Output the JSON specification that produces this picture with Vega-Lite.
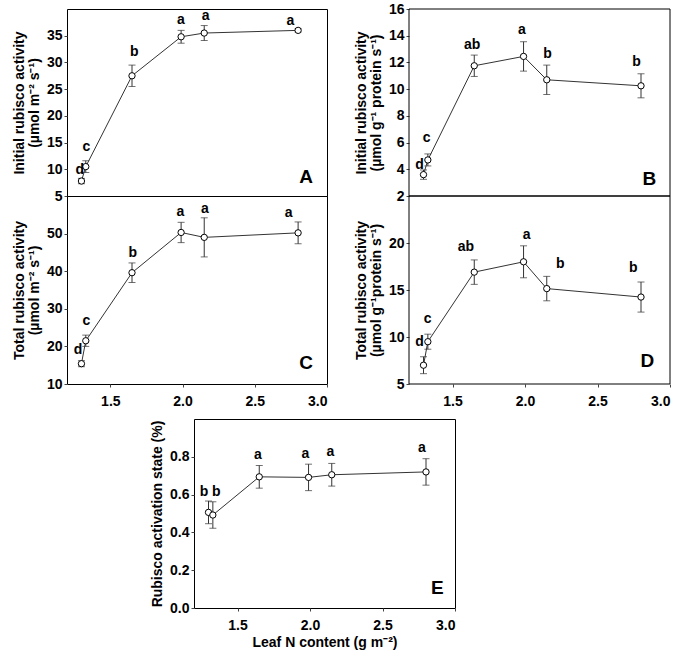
{
  "$schema": "https://vega.github.io/schema/vega-lite/v6.json",
  "padding": {"left": 11, "top": 2, "right": 5, "bottom": 2},
  "background": "white",
  "config": {
    "font": "Liberation Sans",
    "view": {"stroke": "black", "strokeWidth": 1},
    "axis": {
      "domain": false, "grid": false, "ticks": true, "tickSize": 3, "tickColor": "#444", "labelOverlap": false, "tickCount": 20,
      "labelFont": "Liberation Sans", "labelFontSize": 14, "labelFontWeight": "bold", "labelColor": "black", "labelPadding": 2,
      "titleFont": "Liberation Sans", "titleFontSize": 14, "titleFontWeight": "bold", "titleColor": "black", "titleLineHeight": 15, "titlePadding": 5
    },
    "axisX": {"labelPadding": 7, "titlePadding": 3}
  },
  "datasets": {
    "frames": [
      {"p": "B", "x0": 1.2, "x1": 3.0, "y0": 2, "y1": 16},
      {"p": "D", "x0": 1.2, "x1": 3.0, "y0": 5, "y1": 25}
    ],
    "pts": [
      {"p": "A", "x": 1.30, "y": 7.8, "lo": 7.3, "hi": 8.3},
      {"p": "A", "x": 1.33, "y": 10.5, "lo": 9.4, "hi": 11.6},
      {"p": "A", "x": 1.65, "y": 27.5, "lo": 25.5, "hi": 29.5},
      {"p": "A", "x": 1.99, "y": 34.8, "lo": 33.6, "hi": 36.0},
      {"p": "A", "x": 2.15, "y": 35.5, "lo": 34.1, "hi": 36.9},
      {"p": "A", "x": 2.80, "y": 36.0, "lo": 35.7, "hi": 36.3},
      {"p": "B", "x": 1.30, "y": 3.6, "lo": 3.25, "hi": 3.95},
      {"p": "B", "x": 1.33, "y": 4.7, "lo": 4.25, "hi": 5.15},
      {"p": "B", "x": 1.65, "y": 11.75, "lo": 10.95, "hi": 12.55},
      {"p": "B", "x": 1.99, "y": 12.45, "lo": 11.35, "hi": 13.55},
      {"p": "B", "x": 2.15, "y": 10.7, "lo": 9.6, "hi": 11.8},
      {"p": "B", "x": 2.80, "y": 10.25, "lo": 9.35, "hi": 11.15},
      {"p": "C", "x": 1.30, "y": 15.4, "lo": 14.6, "hi": 16.2},
      {"p": "C", "x": 1.33, "y": 21.5, "lo": 20.0, "hi": 23.0},
      {"p": "C", "x": 1.65, "y": 39.6, "lo": 37.0, "hi": 42.2},
      {"p": "C", "x": 1.99, "y": 50.3, "lo": 47.6, "hi": 53.0},
      {"p": "C", "x": 2.15, "y": 49.0, "lo": 43.8, "hi": 54.2},
      {"p": "C", "x": 2.80, "y": 50.2, "lo": 47.3, "hi": 53.1},
      {"p": "D", "x": 1.30, "y": 7.0, "lo": 6.1, "hi": 7.9},
      {"p": "D", "x": 1.33, "y": 9.5, "lo": 8.7, "hi": 10.3},
      {"p": "D", "x": 1.65, "y": 16.9, "lo": 15.6, "hi": 18.2},
      {"p": "D", "x": 1.99, "y": 18.0, "lo": 16.3, "hi": 19.7},
      {"p": "D", "x": 2.15, "y": 15.15, "lo": 13.85, "hi": 16.45},
      {"p": "D", "x": 2.80, "y": 14.25, "lo": 12.65, "hi": 15.85},
      {"p": "E", "x": 1.30, "y": 0.506, "lo": 0.446, "hi": 0.566},
      {"p": "E", "x": 1.33, "y": 0.492, "lo": 0.422, "hi": 0.562},
      {"p": "E", "x": 1.65, "y": 0.694, "lo": 0.634, "hi": 0.754},
      {"p": "E", "x": 1.99, "y": 0.691, "lo": 0.621, "hi": 0.761},
      {"p": "E", "x": 2.15, "y": 0.705, "lo": 0.645, "hi": 0.765},
      {"p": "E", "x": 2.80, "y": 0.72, "lo": 0.65, "hi": 0.79}
    ],
    "lab": [
      {"p": "A", "kind": "sig", "lx": 1.289, "ly": 9.8, "t": "d"},
      {"p": "A", "kind": "sig", "lx": 1.335, "ly": 14.1, "t": "c"},
      {"p": "A", "kind": "sig", "lx": 1.665, "ly": 31.9, "t": "b"},
      {"p": "A", "kind": "sig", "lx": 1.988, "ly": 38.0, "t": "a"},
      {"p": "A", "kind": "sig", "lx": 2.16, "ly": 38.6, "t": "a"},
      {"p": "A", "kind": "sig", "lx": 2.747, "ly": 37.7, "t": "a"},
      {"p": "A", "kind": "panel", "lx": 2.855, "ly": 8.6, "t": "A"},
      {"p": "B", "kind": "sig", "lx": 1.273, "ly": 4.33, "t": "d"},
      {"p": "B", "kind": "sig", "lx": 1.322, "ly": 6.37, "t": "c"},
      {"p": "B", "kind": "sig", "lx": 1.636, "ly": 13.3, "t": "ab"},
      {"p": "B", "kind": "sig", "lx": 1.978, "ly": 14.4, "t": "a"},
      {"p": "B", "kind": "sig", "lx": 2.156, "ly": 12.6, "t": "b"},
      {"p": "B", "kind": "sig", "lx": 2.77, "ly": 12.0, "t": "b"},
      {"p": "B", "kind": "panel", "lx": 2.857, "ly": 3.3, "t": "B"},
      {"p": "C", "kind": "sig", "lx": 1.276, "ly": 19.1, "t": "d"},
      {"p": "C", "kind": "sig", "lx": 1.334, "ly": 26.7, "t": "c"},
      {"p": "C", "kind": "sig", "lx": 1.655, "ly": 44.8, "t": "b"},
      {"p": "C", "kind": "sig", "lx": 1.985, "ly": 55.8, "t": "a"},
      {"p": "C", "kind": "sig", "lx": 2.154, "ly": 56.5, "t": "a"},
      {"p": "C", "kind": "sig", "lx": 2.735, "ly": 55.6, "t": "a"},
      {"p": "C", "kind": "panel", "lx": 2.855, "ly": 15.6, "t": "C"},
      {"p": "D", "kind": "sig", "lx": 1.273, "ly": 9.5, "t": "d"},
      {"p": "D", "kind": "sig", "lx": 1.329, "ly": 11.9, "t": "c"},
      {"p": "D", "kind": "sig", "lx": 1.592, "ly": 19.6, "t": "ab"},
      {"p": "D", "kind": "sig", "lx": 2.012, "ly": 20.9, "t": "a"},
      {"p": "D", "kind": "sig", "lx": 2.243, "ly": 17.8, "t": "b"},
      {"p": "D", "kind": "sig", "lx": 2.746, "ly": 17.3, "t": "b"},
      {"p": "D", "kind": "panel", "lx": 2.843, "ly": 7.4, "t": "D"},
      {"p": "E", "kind": "sig", "lx": 1.269, "ly": 0.612, "t": "b"},
      {"p": "E", "kind": "sig", "lx": 1.354, "ly": 0.612, "t": "b"},
      {"p": "E", "kind": "sig", "lx": 1.64, "ly": 0.81, "t": "a"},
      {"p": "E", "kind": "sig", "lx": 1.968, "ly": 0.817, "t": "a"},
      {"p": "E", "kind": "sig", "lx": 2.14, "ly": 0.826, "t": "a"},
      {"p": "E", "kind": "sig", "lx": 2.772, "ly": 0.844, "t": "a"},
      {"p": "E", "kind": "panel", "lx": 2.878, "ly": 0.105, "t": "E"}
    ]
  },
  "vconcat": [
    {
      "columns": 2,
      "bounds": "flush",
      "spacing": {"row": 0, "column": 82},
      "concat": [
        {
          "width": 260, "height": 187,
          "encoding": {"x": {"field": "x", "type": "quantitative", "scale": {"domain": [1.2, 3.0], "nice": false}, "axis": null}},
          "layer": [
            {"data": {"name": "pts"}, "transform": [{"filter": "datum.p == 'A'"}], "mark": {"type": "line", "color": "#333", "strokeWidth": 1},
             "encoding": {"y": {"field": "y", "type": "quantitative", "scale": {"domain": [5, 40], "nice": false, "zero": false}, "title": ["Initial rubisco activity", "(µmol m⁻² s⁻¹)"], "axis": {"values": [5, 10, 15, 20, 25, 30, 35], "format": "d", "labelOverlap": false, "tickCount": 20}}}},
            {"data": {"name": "pts"}, "transform": [{"filter": "datum.p == 'A'"}], "mark": {"type": "rule", "color": "#333", "strokeWidth": 1},
             "encoding": {"y": {"field": "lo", "type": "quantitative"}, "y2": {"field": "hi"}}},
            {"data": {"name": "pts"}, "transform": [{"filter": "datum.p == 'A'"}], "mark": {"type": "tick", "color": "#333", "thickness": 1, "size": 7, "orient": "horizontal"},
             "encoding": {"y": {"field": "lo", "type": "quantitative"}}},
            {"data": {"name": "pts"}, "transform": [{"filter": "datum.p == 'A'"}], "mark": {"type": "tick", "color": "#333", "thickness": 1, "size": 7, "orient": "horizontal"},
             "encoding": {"y": {"field": "hi", "type": "quantitative"}}},
            {"data": {"name": "pts"}, "transform": [{"filter": "datum.p == 'A'"}], "mark": {"type": "point", "shape": "circle", "filled": true, "fill": "white", "stroke": "black", "strokeWidth": 1, "size": 40, "opacity": 1},
             "encoding": {"y": {"field": "y", "type": "quantitative"}}},
            {"data": {"name": "lab"}, "transform": [{"filter": "datum.p == 'A' && datum.kind == 'sig'"}], "mark": {"type": "text", "fontSize": 14, "fontWeight": "bold", "align": "center", "baseline": "middle", "color": "black"},
             "encoding": {"x": {"field": "lx", "type": "quantitative", "axis": null}, "y": {"field": "ly", "type": "quantitative"}, "text": {"field": "t"}}},
            {"data": {"name": "lab"}, "transform": [{"filter": "datum.p == 'A' && datum.kind == 'panel'"}], "mark": {"type": "text", "fontSize": 19, "fontWeight": "bold", "align": "center", "baseline": "middle", "color": "black"},
             "encoding": {"x": {"field": "lx", "type": "quantitative", "axis": null}, "y": {"field": "ly", "type": "quantitative"}, "text": {"field": "t"}}}
          ]
        },
        {
          "width": 261, "height": 187,
          "view": {"stroke": null},
          "encoding": {"x": {"field": "x", "type": "quantitative", "scale": {"domain": [1.2, 3.0], "nice": false}, "axis": null}},
          "layer": [
            {"data": {"name": "frames"}, "transform": [{"filter": "datum.p == 'B'"}], "mark": {"type": "rect", "filled": false, "color": "black", "strokeWidth": 1},
             "encoding": {"x": {"field": "x0", "type": "quantitative", "axis": null}, "x2": {"field": "x1"}, "y": {"field": "y0", "type": "quantitative"}, "y2": {"field": "y1"}}},
            {"data": {"name": "pts"}, "transform": [{"filter": "datum.p == 'B'"}], "mark": {"type": "line", "color": "#333", "strokeWidth": 1},
             "encoding": {"y": {"field": "y", "type": "quantitative", "scale": {"domain": [2, 16], "nice": false, "zero": false}, "title": ["Initial rubisco activity", "(µmol g⁻¹ protein s⁻¹)"], "axis": {"values": [2, 4, 6, 8, 10, 12, 14, 16], "format": "d", "labelOverlap": false, "tickCount": 20}}}},
            {"data": {"name": "pts"}, "transform": [{"filter": "datum.p == 'B'"}], "mark": {"type": "rule", "color": "#333", "strokeWidth": 1},
             "encoding": {"y": {"field": "lo", "type": "quantitative"}, "y2": {"field": "hi"}}},
            {"data": {"name": "pts"}, "transform": [{"filter": "datum.p == 'B'"}], "mark": {"type": "tick", "color": "#333", "thickness": 1, "size": 7, "orient": "horizontal"},
             "encoding": {"y": {"field": "lo", "type": "quantitative"}}},
            {"data": {"name": "pts"}, "transform": [{"filter": "datum.p == 'B'"}], "mark": {"type": "tick", "color": "#333", "thickness": 1, "size": 7, "orient": "horizontal"},
             "encoding": {"y": {"field": "hi", "type": "quantitative"}}},
            {"data": {"name": "pts"}, "transform": [{"filter": "datum.p == 'B'"}], "mark": {"type": "point", "shape": "circle", "filled": true, "fill": "white", "stroke": "black", "strokeWidth": 1, "size": 40, "opacity": 1},
             "encoding": {"y": {"field": "y", "type": "quantitative"}}},
            {"data": {"name": "lab"}, "transform": [{"filter": "datum.p == 'B' && datum.kind == 'sig'"}], "mark": {"type": "text", "fontSize": 14, "fontWeight": "bold", "align": "center", "baseline": "middle", "color": "black"},
             "encoding": {"x": {"field": "lx", "type": "quantitative", "axis": null}, "y": {"field": "ly", "type": "quantitative"}, "text": {"field": "t"}}},
            {"data": {"name": "lab"}, "transform": [{"filter": "datum.p == 'B' && datum.kind == 'panel'"}], "mark": {"type": "text", "fontSize": 19, "fontWeight": "bold", "align": "center", "baseline": "middle", "color": "black"},
             "encoding": {"x": {"field": "lx", "type": "quantitative", "axis": null}, "y": {"field": "ly", "type": "quantitative"}, "text": {"field": "t"}}}
          ]
        },
        {
          "width": 260, "height": 188,
          "encoding": {"x": {"field": "x", "type": "quantitative", "scale": {"domain": [1.2, 3.0], "nice": false}, "title": null, "axis": {"values": [1.5, 2.0, 2.5, 3.0], "format": ".1f", "labelOverlap": false, "tickCount": 20}}},
          "layer": [
            {"data": {"name": "pts"}, "transform": [{"filter": "datum.p == 'C'"}], "mark": {"type": "line", "color": "#333", "strokeWidth": 1},
             "encoding": {"y": {"field": "y", "type": "quantitative", "scale": {"domain": [10, 60], "nice": false, "zero": false}, "title": ["Total rubisco activity", "(µmol m⁻² s⁻¹)"], "axis": {"values": [10, 20, 30, 40, 50], "format": "d", "labelOverlap": false, "tickCount": 20}}}},
            {"data": {"name": "pts"}, "transform": [{"filter": "datum.p == 'C'"}], "mark": {"type": "rule", "color": "#333", "strokeWidth": 1},
             "encoding": {"y": {"field": "lo", "type": "quantitative"}, "y2": {"field": "hi"}}},
            {"data": {"name": "pts"}, "transform": [{"filter": "datum.p == 'C'"}], "mark": {"type": "tick", "color": "#333", "thickness": 1, "size": 7, "orient": "horizontal"},
             "encoding": {"y": {"field": "lo", "type": "quantitative"}}},
            {"data": {"name": "pts"}, "transform": [{"filter": "datum.p == 'C'"}], "mark": {"type": "tick", "color": "#333", "thickness": 1, "size": 7, "orient": "horizontal"},
             "encoding": {"y": {"field": "hi", "type": "quantitative"}}},
            {"data": {"name": "pts"}, "transform": [{"filter": "datum.p == 'C'"}], "mark": {"type": "point", "shape": "circle", "filled": true, "fill": "white", "stroke": "black", "strokeWidth": 1, "size": 40, "opacity": 1},
             "encoding": {"y": {"field": "y", "type": "quantitative"}}},
            {"data": {"name": "lab"}, "transform": [{"filter": "datum.p == 'C' && datum.kind == 'sig'"}], "mark": {"type": "text", "fontSize": 14, "fontWeight": "bold", "align": "center", "baseline": "middle", "color": "black"},
             "encoding": {"x": {"field": "lx", "type": "quantitative"}, "y": {"field": "ly", "type": "quantitative"}, "text": {"field": "t"}}},
            {"data": {"name": "lab"}, "transform": [{"filter": "datum.p == 'C' && datum.kind == 'panel'"}], "mark": {"type": "text", "fontSize": 19, "fontWeight": "bold", "align": "center", "baseline": "middle", "color": "black"},
             "encoding": {"x": {"field": "lx", "type": "quantitative"}, "y": {"field": "ly", "type": "quantitative"}, "text": {"field": "t"}}}
          ]
        },
        {
          "width": 261, "height": 188,
          "view": {"stroke": null},
          "encoding": {"x": {"field": "x", "type": "quantitative", "scale": {"domain": [1.2, 3.0], "nice": false}, "title": null, "axis": {"values": [1.5, 2.0, 2.5, 3.0], "format": ".1f", "labelOverlap": false, "tickCount": 20}}},
          "layer": [
            {"data": {"name": "frames"}, "transform": [{"filter": "datum.p == 'D'"}], "mark": {"type": "rect", "filled": false, "color": "black", "strokeWidth": 1},
             "encoding": {"x": {"field": "x0", "type": "quantitative"}, "x2": {"field": "x1"}, "y": {"field": "y0", "type": "quantitative"}, "y2": {"field": "y1"}}},
            {"data": {"name": "pts"}, "transform": [{"filter": "datum.p == 'D'"}], "mark": {"type": "line", "color": "#333", "strokeWidth": 1},
             "encoding": {"y": {"field": "y", "type": "quantitative", "scale": {"domain": [5, 25], "nice": false, "zero": false}, "title": ["Total rubisco activity", "(µmol g⁻¹protein s⁻¹)"], "axis": {"values": [5, 10, 15, 20], "format": "d", "labelOverlap": false, "tickCount": 20}}}},
            {"data": {"name": "pts"}, "transform": [{"filter": "datum.p == 'D'"}], "mark": {"type": "rule", "color": "#333", "strokeWidth": 1},
             "encoding": {"y": {"field": "lo", "type": "quantitative"}, "y2": {"field": "hi"}}},
            {"data": {"name": "pts"}, "transform": [{"filter": "datum.p == 'D'"}], "mark": {"type": "tick", "color": "#333", "thickness": 1, "size": 7, "orient": "horizontal"},
             "encoding": {"y": {"field": "lo", "type": "quantitative"}}},
            {"data": {"name": "pts"}, "transform": [{"filter": "datum.p == 'D'"}], "mark": {"type": "tick", "color": "#333", "thickness": 1, "size": 7, "orient": "horizontal"},
             "encoding": {"y": {"field": "hi", "type": "quantitative"}}},
            {"data": {"name": "pts"}, "transform": [{"filter": "datum.p == 'D'"}], "mark": {"type": "point", "shape": "circle", "filled": true, "fill": "white", "stroke": "black", "strokeWidth": 1, "size": 40, "opacity": 1},
             "encoding": {"y": {"field": "y", "type": "quantitative"}}},
            {"data": {"name": "lab"}, "transform": [{"filter": "datum.p == 'D' && datum.kind == 'sig'"}], "mark": {"type": "text", "fontSize": 14, "fontWeight": "bold", "align": "center", "baseline": "middle", "color": "black"},
             "encoding": {"x": {"field": "lx", "type": "quantitative"}, "y": {"field": "ly", "type": "quantitative"}, "text": {"field": "t"}}},
            {"data": {"name": "lab"}, "transform": [{"filter": "datum.p == 'D' && datum.kind == 'panel'"}], "mark": {"type": "text", "fontSize": 19, "fontWeight": "bold", "align": "center", "baseline": "middle", "color": "black"},
             "encoding": {"x": {"field": "lx", "type": "quantitative"}, "y": {"field": "ly", "type": "quantitative"}, "text": {"field": "t"}}}
          ]
        }
      ]
    },
    {
      "hconcat": [
        {
          "width": 83, "height": 10,
          "data": {"values": [{"k": 1}]},
          "mark": {"type": "point", "opacity": 0},
          "encoding": {},
          "view": {"stroke": null}
        },
        {
          "width": 261, "height": 189,
          "encoding": {"x": {"field": "x", "type": "quantitative", "scale": {"domain": [1.2, 3.0], "nice": false}, "title": "Leaf N content (g m⁻²)", "axis": {"values": [1.5, 2.0, 2.5, 3.0], "format": ".1f", "labelOverlap": false, "tickCount": 20}}},
          "layer": [
            {"data": {"name": "pts"}, "transform": [{"filter": "datum.p == 'E'"}], "mark": {"type": "line", "color": "#333", "strokeWidth": 1},
             "encoding": {"y": {"field": "y", "type": "quantitative", "scale": {"domain": [0, 1], "nice": false}, "title": "Rubisco activation state (%)", "axis": {"values": [0, 0.2, 0.4, 0.6, 0.8], "format": ".1f", "labelOverlap": false, "tickCount": 20}}}},
            {"data": {"name": "pts"}, "transform": [{"filter": "datum.p == 'E'"}], "mark": {"type": "rule", "color": "#333", "strokeWidth": 1},
             "encoding": {"y": {"field": "lo", "type": "quantitative"}, "y2": {"field": "hi"}}},
            {"data": {"name": "pts"}, "transform": [{"filter": "datum.p == 'E'"}], "mark": {"type": "tick", "color": "#333", "thickness": 1, "size": 7, "orient": "horizontal"},
             "encoding": {"y": {"field": "lo", "type": "quantitative"}}},
            {"data": {"name": "pts"}, "transform": [{"filter": "datum.p == 'E'"}], "mark": {"type": "tick", "color": "#333", "thickness": 1, "size": 7, "orient": "horizontal"},
             "encoding": {"y": {"field": "hi", "type": "quantitative"}}},
            {"data": {"name": "pts"}, "transform": [{"filter": "datum.p == 'E'"}], "mark": {"type": "point", "shape": "circle", "filled": true, "fill": "white", "stroke": "black", "strokeWidth": 1, "size": 40, "opacity": 1},
             "encoding": {"y": {"field": "y", "type": "quantitative"}}},
            {"data": {"name": "lab"}, "transform": [{"filter": "datum.p == 'E' && datum.kind == 'sig'"}], "mark": {"type": "text", "fontSize": 14, "fontWeight": "bold", "align": "center", "baseline": "middle", "color": "black"},
             "encoding": {"x": {"field": "lx", "type": "quantitative"}, "y": {"field": "ly", "type": "quantitative"}, "text": {"field": "t"}}},
            {"data": {"name": "lab"}, "transform": [{"filter": "datum.p == 'E' && datum.kind == 'panel'"}], "mark": {"type": "text", "fontSize": 19, "fontWeight": "bold", "align": "center", "baseline": "middle", "color": "black"},
             "encoding": {"x": {"field": "lx", "type": "quantitative"}, "y": {"field": "ly", "type": "quantitative"}, "text": {"field": "t"}}}
          ]
        }
      ],
      "spacing": 0
    }
  ],
  "spacing": 9
}
